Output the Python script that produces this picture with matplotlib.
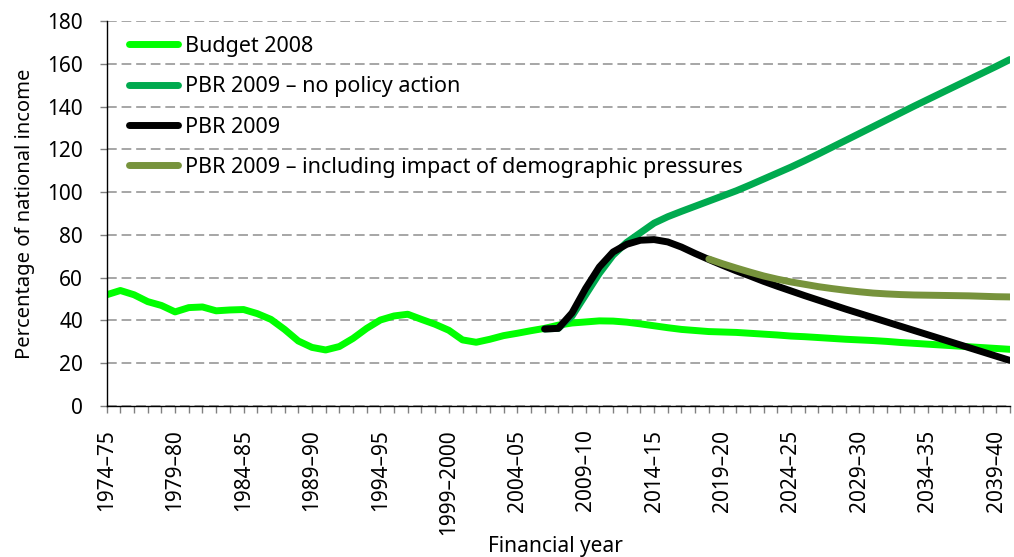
import numpy as np
import matplotlib
matplotlib.use("Agg")
import matplotlib.pyplot as plt

plt.rcParams['font.family'] = ['Noto Sans', 'DejaVu Sans']

# financial years 1974-75 .. 2040-41 (one category per year)
start_years = list(range(1974, 2041))
years = [f"{y}–{str(y + 1)[-2:]}" if y != 1999 else "1999–2000" for y in start_years]

tick_labels = ["1974–75", "1979–80", "1984–85", "1989–90", "1994–95",
               "1999–2000", "2004–05", "2009–10", "2014–15", "2019–20",
               "2024–25", "2029–30", "2034–35", "2039–40"]

budget_2008 = [52, 54, 52, 48.8, 47, 44, 46, 46.3, 44.5, 44.9,
               45.1, 43.2, 40.5, 35.8, 30.4, 27.4, 26.2, 27.8, 31.6, 36.3,
               40.2, 42.1, 42.9, 40.5, 38.2, 35.4, 30.9, 29.8, 31.2, 32.9,
               34, 35.2, 36.3, 37.8, 38.8, 39.3, 39.8, 39.7, 39.2, 38.4,
               37.5, 36.6, 35.8, 35.3, 34.8, 34.6, 34.4, 34, 33.6, 33.2,
               32.7, 32.4, 32.0, 31.6, 31.2, 30.9, 30.6, 30.2, 29.7, 29.3,
               28.9, 28.5, 28.1, 27.7, 27.3, 26.9, 26.5]

# PBR 2009 series start in 2006-07
pbr_start = "2006–07"
pbr_no_action = [36, 36.3, 42, 52, 62, 70.5, 76.5, 81, 85.5, 88.5,
                 91, 93.4, 95.8, 98.2, 100.6, 103.3, 106.1, 108.9, 111.7, 114.7,
                 117.8, 121, 124.2, 127.4, 130.6, 133.8, 137, 140.2, 143.3, 146.4,
                 149.5, 152.6, 155.7, 158.8, 162]
pbr_2009 = [36, 36.3, 43.5, 55, 65, 72, 75.6, 77.5, 77.8, 76.7,
            74.3, 71.3, 68.5, 65.8, 63.2, 60.8, 58.3, 56, 53.8, 51.6,
            49.5, 47.4, 45.3, 43.3, 41.3, 39.3, 37.3, 35.3, 33.3, 31.3,
            29.3, 27.3, 25.3, 23.3, 21.3]

demo_start = "2018–19"
pbr_demographic = [68.7, 66.5, 64.5, 62.6, 60.8, 59.3, 58, 56.9, 55.8, 54.9,
                   54.1, 53.4, 52.8, 52.4, 52.1, 51.9, 51.8, 51.7, 51.6, 51.5,
                   51.3, 51.1, 51.0]


def xs(first, values):
    i0 = years.index(first)
    return np.arange(i0, i0 + len(values))


fig = plt.figure(figsize=(10.14, 5.57), dpi=100)
ax = fig.add_axes([0.1052, 0.2711, 0.996 - 0.1052, 0.9623 - 0.2711])

lw = 5
ax.plot(xs(years[0], budget_2008), budget_2008, color='#00FF00', lw=lw,
        solid_capstyle='round', label='Budget 2008')
ax.plot(xs(pbr_start, pbr_no_action), pbr_no_action, color='#00AA4F', lw=lw,
        solid_capstyle='round', label='PBR 2009 – no policy action')
ax.plot(xs(pbr_start, pbr_2009), pbr_2009, color='black', lw=lw,
        solid_capstyle='round', label='PBR 2009')
ax.plot(xs(demo_start, pbr_demographic), pbr_demographic, color='#77933C', lw=lw,
        solid_capstyle='round', label='PBR 2009 – including impact of demographic pressures')

ax.set_xlim(0, len(years) - 1)
ax.set_ylim(0, 180)
ax.set_yticks(range(0, 181, 20))
ax.set_xticks(range(0, 66, 5), tick_labels, rotation=90)
ax.set_xticks(range(len(years)), minor=True)

ax.yaxis.grid(True, color='#A6A6A6', lw=1.4, ls=(0, (5, 2.5)))
ax.set_axisbelow(True)

for s in ['top', 'right']:
    ax.spines[s].set_visible(False)
for s in ['left', 'bottom']:
    ax.spines[s].set_linewidth(1.0)

ax.tick_params(axis='both', which='both', length=5, width=1, color='#808080',
               labelsize=15, pad=12)
ax.tick_params(axis='x', which='minor', length=5)

ax.set_ylabel('Percentage of national income', fontsize=14.5, labelpad=9)
fig.text(0.5475, 1 - 536 / 557, 'Financial year', fontsize=15, ha='center', va='top')

ax.legend(loc='upper left', bbox_to_anchor=(0.01, 0.995), frameon=False, fontsize=15.5,
          handlelength=2.3, handletextpad=0.3, labelspacing=0.9, borderaxespad=0.2)

fig.savefig('out.png', dpi=100)
